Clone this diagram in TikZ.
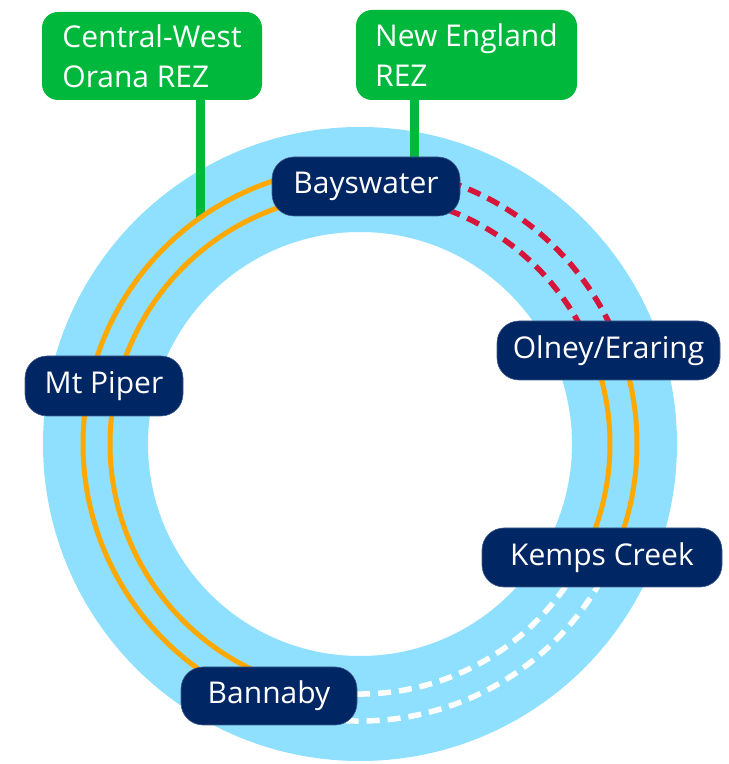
\documentclass[tikz,border=0pt]{standalone}
\usepackage{fontspec}
\setmainfont{Open Sans}
\usetikzlibrary{calc}
\definecolor{ringblue}{HTML}{8EE0FE}
\definecolor{navy}{HTML}{002664}
\definecolor{rezgreen}{HTML}{00B83C}
\definecolor{lineorange}{HTML}{FFA800}
\definecolor{linered}{HTML}{D7153A}
\pgfdeclarelayer{bg}
\pgfsetlayers{bg,main}
\newcommand\ringarc[5][]{%
  \draw[#1] let \p1=($(#2)-(C)$), \p2=($(#3)-(C)$),
    \n1={atan2(\y1,\x1)}, \n2={atan2(\y2,\x2)+#5} in
    ($(C)+(\n1:#4)$) arc[start angle=\n1, end angle=\n2, radius=#4];}
\begin{document}
\begin{tikzpicture}[x=1pt,y=1pt,
  station/.style={rectangle, rounded corners=22pt, fill=navy, draw=navy!75!white, line width=0.6pt,
    text=white, inner sep=0pt, minimum height=59pt, font=\fontsize{30}{36}\selectfont},
  rez/.style={rectangle, rounded corners=16pt, fill=rezgreen, text=white, inner sep=0pt,
    align=left, font=\fontsize{30}{40}\selectfont},
  orangeline/.style={draw=lineorange, line width=5pt},
  reddash/.style={draw=linered, line width=5.5pt, dash pattern=on 13pt off 8pt},
  whitedash/.style={draw=white, line width=5.5pt, dash pattern=on 13pt off 8pt},
  feeder/.style={draw=rezgreen, line width=9pt}]
\useasboundingbox (0,0) rectangle (729,764);
\coordinate (C) at (360,320);

\node[station, minimum width=188pt] (bays) at (366,577.5) {Bayswater};
\node[station, minimum width=223pt] (olney) at (608.5,413.5) {Olney/Eraring};
\node[station, minimum width=158pt, minimum height=60pt] (piper) at (104,378) {Mt Piper};
\node[station, minimum width=240pt] (kemps) at (602,206.5) {Kemps Creek};
\node[station, minimum width=176pt, minimum height=58pt] (bann) at (269,68) {Bannaby};

\node[rez, minimum width=220pt, minimum height=88pt] (cw) at (152,708) {Central-West\\Orana REZ};
\node[rez, minimum width=221pt, minimum height=90pt] (ne) at (466.5,709) {New England\\REZ};

\coordinate (cwend) at (200,546);

\begin{pgfonlayer}{bg}
  \draw[ringblue, line width=105pt] (C) circle[radius=264.5];
  \draw[feeder] (cw.south -| cwend) -- (cwend);
  \draw[feeder] (ne.south -| 414,0) -- (bays.north -| 414,0);
  \ringarc[orangeline]{bays}{bann}{277}{360}
  \ringarc[orangeline]{bays}{bann}{250}{360}
  \ringarc[reddash]{bays}{olney}{277}{0}
  \ringarc[reddash]{bays}{olney}{250}{0}
  \ringarc[orangeline]{olney}{kemps}{277}{0}
  \ringarc[orangeline]{olney}{kemps}{250}{0}
  \ringarc[whitedash]{kemps}{bann}{277}{0}
  \ringarc[whitedash]{kemps}{bann}{250}{0}
\end{pgfonlayer}
\end{tikzpicture}
\end{document}
